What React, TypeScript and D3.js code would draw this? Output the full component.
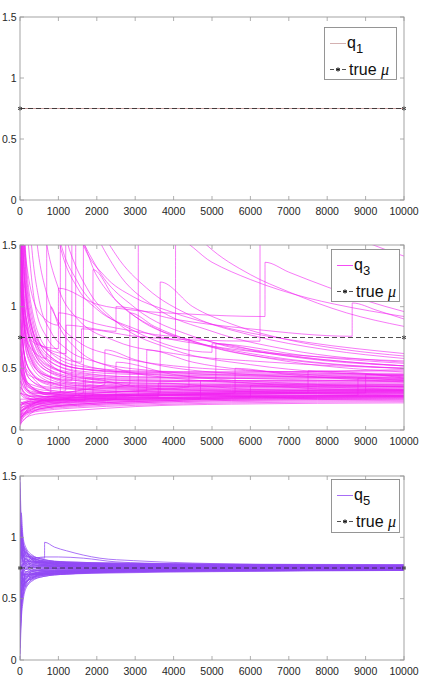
import React, { useEffect } from "react";
import * as d3 from "d3";

type Pt = [number, number];

const xTicks = [0, 1000, 2000, 3000, 4000, 5000, 6000, 7000, 8000, 9000, 10000];
const yTicks = [0, 0.5, 1, 1.5];
const muTrue = 0.75;

// q1: every run sits on the true mean
const q1Runs: Pt[][] = [
  [[0, 0.75], [10000, 0.75]],
];

// q3: smooth runs sampled at shared x positions
const q3BandX = [0, 40, 120, 300, 700, 1500, 3000, 5500, 10000];
const q3Band: number[][] = [
  [0.03, 0.06, 0.09, 0.12, 0.14, 0.16, 0.19, 0.21, 0.22],
  [0.05, 0.08, 0.11, 0.14, 0.16, 0.18, 0.2, 0.22, 0.23],
  [0.07, 0.1, 0.13, 0.15, 0.17, 0.19, 0.21, 0.23, 0.24],
  [0.09, 0.12, 0.14, 0.16, 0.18, 0.2, 0.22, 0.24, 0.25],
  [0.1, 0.13, 0.16, 0.18, 0.19, 0.21, 0.23, 0.25, 0.26],
  [0.12, 0.15, 0.17, 0.19, 0.2, 0.22, 0.24, 0.25, 0.26],
  [0.14, 0.16, 0.18, 0.2, 0.21, 0.23, 0.24, 0.26, 0.27],
  [0.16, 0.18, 0.19, 0.21, 0.22, 0.23, 0.25, 0.26, 0.27],
  [0.18, 0.2, 0.21, 0.22, 0.23, 0.24, 0.25, 0.27, 0.28],
  [0.2, 0.21, 0.22, 0.23, 0.24, 0.25, 0.26, 0.27, 0.28],
  [0.35, 0.3, 0.27, 0.25, 0.24, 0.25, 0.26, 0.27, 0.28],
  [0.5, 0.4, 0.33, 0.29, 0.27, 0.28, 0.3, 0.31, 0.32],
  [0.7, 0.55, 0.42, 0.34, 0.3, 0.3, 0.31, 0.32, 0.33],
  [0.9, 0.7, 0.5, 0.4, 0.34, 0.33, 0.33, 0.34, 0.35],
  [1.1, 0.85, 0.6, 0.46, 0.38, 0.35, 0.35, 0.36, 0.37],
  [1.3, 1.0, 0.72, 0.54, 0.44, 0.4, 0.38, 0.38, 0.39],
  [1.6, 1.2, 0.85, 0.62, 0.48, 0.42, 0.4, 0.4, 0.4],
  [2.0, 1.45, 1.0, 0.7, 0.52, 0.45, 0.42, 0.42, 0.42],
  [2.5, 1.75, 1.15, 0.78, 0.57, 0.48, 0.45, 0.44, 0.44],
  [3.0, 2.1, 1.3, 0.85, 0.6, 0.5, 0.47, 0.46, 0.46],
  [0.25, 0.22, 0.21, 0.22, 0.23, 0.24, 0.25, 0.26, 0.27],
  [0.6, 0.45, 0.36, 0.3, 0.27, 0.27, 0.28, 0.29, 0.3],
  [1.8, 1.3, 0.85, 0.6, 0.45, 0.38, 0.35, 0.35, 0.35],
  [2.2, 1.6, 1.0, 0.68, 0.5, 0.41, 0.37, 0.36, 0.36],
  [1.4, 1.1, 0.8, 0.58, 0.44, 0.37, 0.34, 0.33, 0.33],
  [0.8, 0.6, 0.45, 0.35, 0.3, 0.28, 0.28, 0.28, 0.29],
  [2.8, 2.1, 1.4, 0.85, 0.56, 0.43, 0.38, 0.37, 0.37],
  [0.15, 0.2, 0.22, 0.23, 0.24, 0.25, 0.26, 0.27, 0.28],
  [0.08, 0.13, 0.17, 0.2, 0.22, 0.24, 0.25, 0.26, 0.27],
  [0.04, 0.08, 0.12, 0.15, 0.18, 0.2, 0.22, 0.24, 0.25],
  [3.5, 2.4, 1.5, 0.95, 0.62, 0.5, 0.46, 0.45, 0.45],
  [1.2, 0.95, 0.7, 0.52, 0.4, 0.34, 0.31, 0.3, 0.3],
  [0.45, 0.36, 0.3, 0.27, 0.25, 0.25, 0.26, 0.27, 0.27],
  [2.4, 1.8, 1.2, 0.78, 0.54, 0.44, 0.4, 0.39, 0.4],
  [0.3, 0.28, 0.26, 0.25, 0.25, 0.26, 0.27, 0.28, 0.29],
  [1.0, 0.8, 0.6, 0.46, 0.37, 0.33, 0.31, 0.31, 0.32],
  [0.65, 0.5, 0.4, 0.33, 0.29, 0.29, 0.29, 0.3, 0.31],
  [0.11, 0.15, 0.18, 0.21, 0.23, 0.25, 0.27, 0.29, 0.3],
  [0.06, 0.1, 0.14, 0.17, 0.19, 0.21, 0.23, 0.25, 0.26],
  [1.5, 1.2, 0.9, 0.64, 0.48, 0.4, 0.36, 0.35, 0.35],
  [4.0, 2.6, 1.6, 1.0, 0.66, 0.52, 0.48, 0.47, 0.48],
  [1.7, 1.35, 0.95, 0.68, 0.5, 0.43, 0.41, 0.4, 0.41],
  [0.75, 0.62, 0.5, 0.4, 0.35, 0.34, 0.34, 0.35, 0.36],
  [2.6, 1.9, 1.25, 0.82, 0.58, 0.47, 0.43, 0.42, 0.43],
  [0.13, 0.17, 0.2, 0.22, 0.24, 0.26, 0.28, 0.3, 0.31],
  [1.25, 1.05, 0.78, 0.56, 0.42, 0.36, 0.33, 0.32, 0.32],
  [0.4, 0.34, 0.29, 0.27, 0.27, 0.28, 0.29, 0.3, 0.31],
  [3.2, 2.3, 1.45, 0.9, 0.62, 0.5, 0.47, 0.47, 0.49],
  [0.95, 0.78, 0.6, 0.47, 0.39, 0.36, 0.36, 0.37, 0.38],
  [0.2, 0.22, 0.23, 0.25, 0.26, 0.27, 0.29, 0.31, 0.33],
  [1.9, 1.5, 1.05, 0.72, 0.53, 0.46, 0.43, 0.43, 0.44],
  [0.55, 0.48, 0.4, 0.35, 0.32, 0.31, 0.32, 0.33, 0.34],
];

// q3: runs with jumps (a jump is two points one step apart)
const q3Jumps: Pt[][] = [
  [[0, 2.6], [120, 1.2], [400, 0.75], [1000, 0.6], [1600, 0.55], [1601, 0.82], [3000, 0.76], [4500, 0.73], [6250, 0.72], [6251, 2.1], [7500, 1.75], [9200, 1.5], [10000, 1.41]],
  [[0, 0.1], [300, 0.17], [1000, 0.22], [2000, 0.26], [3080, 0.28], [3081, 2.4], [4000, 1.8], [4860, 1.5], [6000, 1.26], [7000, 1.12], [8500, 0.95], [10000, 0.84]],
  [[0, 3], [150, 1.4], [500, 0.95], [1000, 0.85], [1001, 1.15], [2000, 1.02], [3000, 0.97], [4400, 0.94], [6380, 0.92], [6381, 1.36], [7000, 1.28], [8000, 1.16], [9000, 1.05], [10000, 0.96]],
  [[0, 2], [100, 1.0], [400, 0.72], [1200, 0.62], [1201, 0.85], [2500, 0.8], [2501, 1.0], [4000, 0.9], [6000, 0.82], [8650, 0.76], [8651, 1.03], [9300, 0.97], [10000, 0.9]],
  [[0, 1.5], [100, 0.9], [400, 0.7], [1000, 0.66], [1001, 0.95], [2000, 0.86], [3000, 0.8], [4050, 0.76], [4051, 1.55], [5000, 1.36], [6000, 1.22], [7500, 1.07], [8200, 1.02], [10000, 0.92]],
  [[0, 8], [400, 2.2], [700, 1.5], [1000, 1.15], [1500, 0.9], [2500, 0.72], [4000, 0.62], [6500, 0.55], [10000, 0.5]],
  [[0, 9], [500, 2.6], [1040, 1.5], [1500, 1.15], [2000, 0.98], [3000, 0.82], [5000, 0.68], [7500, 0.6], [10000, 0.56]],
  [[0, 10], [800, 2.6], [1650, 1.5], [2200, 1.25], [2950, 1.08], [3820, 0.97], [5500, 0.82], [7500, 0.71], [10000, 0.62]],
  [[0, 5], [100, 2.0], [220, 1.5], [400, 1.0], [700, 0.75], [1200, 0.6], [2000, 0.5], [4000, 0.44], [7000, 0.41], [10000, 0.39]],
  [[0, 7], [200, 2.4], [450, 1.5], [700, 1.1], [1000, 0.88], [1500, 0.72], [2500, 0.6], [4000, 0.52], [7000, 0.47], [10000, 0.45]],
  [[0, 6], [150, 2.2], [300, 1.5], [500, 1.05], [800, 0.8], [1200, 0.66], [2000, 0.55], [3500, 0.48], [6000, 0.44], [10000, 0.42]],
  [[0, 1.2], [200, 0.7], [695, 0.58], [696, 2.2], [1000, 1.6], [1500, 1.2], [2000, 1.0], [3000, 0.8], [5000, 0.63], [5001, 0.7], [7500, 0.6], [10000, 0.54]],
  [[0, 0.3], [300, 0.28], [1190, 0.32], [1191, 2.0], [1500, 1.65], [2000, 1.32], [3000, 0.99], [4500, 0.76], [6500, 0.63], [10000, 0.52]],
  [[0, 0.15], [400, 0.22], [1650, 0.3], [1651, 2.0], [2000, 1.7], [2500, 1.42], [3300, 1.15], [4500, 0.92], [6000, 0.77], [8000, 0.65], [10000, 0.58]],
  [[0, 0.6], [200, 0.35], [800, 0.3], [2210, 0.37], [2211, 0.65], [3000, 0.57], [5000, 0.47], [10000, 0.41]],
  [[0, 0.08], [300, 0.2], [1200, 0.3], [2860, 0.37], [2861, 0.95], [3500, 0.84], [4500, 0.72], [6000, 0.62], [8000, 0.54], [10000, 0.5]],
  [[0, 0.9], [150, 0.4], [800, 0.28], [3650, 0.3], [3651, 1.2], [4500, 1.0], [5500, 0.86], [7000, 0.73], [8500, 0.65], [10000, 0.6]],
  [[0, 0.2], [500, 0.26], [2000, 0.3], [4400, 0.35], [4401, 0.75], [5500, 0.67], [7000, 0.6], [10000, 0.52]],
  [[0, 1.0], [200, 0.45], [1000, 0.38], [3000, 0.39], [5100, 0.4], [5101, 0.7], [6500, 0.62], [8000, 0.56], [10000, 0.52]],
  [[0, 0.12], [400, 0.2], [1450, 0.28], [1451, 1.6], [2000, 1.25], [3000, 0.92], [4500, 0.72], [6500, 0.58], [10000, 0.47]],
  [[0, 0.4], [300, 0.3], [1050, 0.3], [1051, 1.7], [1300, 1.45], [1800, 1.12], [2500, 0.88], [4000, 0.65], [6000, 0.53], [10000, 0.44]],
  [[0, 0.25], [600, 0.25], [1900, 0.28], [1901, 1.3], [2500, 1.05], [3500, 0.83], [5000, 0.67], [7500, 0.55], [10000, 0.5]],
  [[0, 0.7], [200, 0.38], [1500, 0.3], [3300, 0.32], [3301, 0.65], [4500, 0.55], [7000, 0.46], [10000, 0.42]],
  [[0, 0.18], [700, 0.24], [3000, 0.28], [7500, 0.3], [7501, 0.48], [10000, 0.43]],
  [[0, 1.4], [150, 0.5], [1000, 0.3], [5000, 0.28], [8800, 0.28], [8801, 0.42], [10000, 0.4]],
  [[0, 0.1], [600, 0.2], [2500, 0.25], [2501, 0.55], [4000, 0.45], [7000, 0.38], [10000, 0.35]],
  [[0, 0.5], [300, 0.3], [2000, 0.28], [5600, 0.3], [5601, 0.5], [7000, 0.45], [10000, 0.39]],
  [[0, 0.05], [500, 0.17], [2000, 0.22], [4700, 0.25], [4701, 0.4], [7000, 0.36], [10000, 0.33]],
  [[0, 0.3], [500, 0.24], [3000, 0.25], [6000, 0.26], [6001, 0.36], [8000, 0.33], [10000, 0.32]],
  [[0, 0.5], [200, 0.32], [800, 0.3], [801, 1.0], [1000, 0.85], [1500, 0.65], [2500, 0.5], [4000, 0.42], [7000, 0.37], [10000, 0.35]],
  [[0, 2.0], [150, 0.7], [600, 0.45], [1350, 0.4], [1351, 2.2], [1700, 1.82], [2500, 1.3], [3500, 1.0], [5000, 0.8], [7000, 0.65], [10000, 0.55]],
  [[0, 0.22], [1000, 0.26], [5000, 0.29], [9000, 0.3], [9001, 0.45], [10000, 0.42]],
  [[0, 0.35], [300, 0.27], [2000, 0.26], [3600, 0.27], [3601, 0.38], [6000, 0.33], [10000, 0.31]],
  [[0, 0.15], [500, 0.21], [1700, 0.24], [1701, 0.42], [3000, 0.35], [6000, 0.31], [10000, 0.3]],
];

// q5: runs sampled at shared x positions
const q5X = [0, 30, 80, 150, 300, 600, 1200, 2500, 5000, 10000];
const q5Band: number[][] = [
  [1.45, 1.05, 0.93, 0.86, 0.82, 0.79, 0.78, 0.78, 0.77, 0.765],
  [0.05, 0.42, 0.55, 0.62, 0.67, 0.7, 0.71, 0.72, 0.73, 0.735],
  [1.2, 0.98, 0.88, 0.84, 0.8, 0.8, 0.79, 0.775, 0.765, 0.76],
  [0.3, 0.48, 0.6, 0.65, 0.69, 0.71, 0.72, 0.725, 0.73, 0.738],
  [1.0, 0.9, 0.82, 0.8, 0.83, 0.8, 0.77, 0.76, 0.76, 0.772],
  [0.5, 0.62, 0.64, 0.68, 0.7, 0.7, 0.715, 0.73, 0.735, 0.742],
  [0.9, 0.86, 0.8, 0.83, 0.78, 0.77, 0.785, 0.77, 0.775, 0.768],
  [0.6, 0.68, 0.7, 0.66, 0.72, 0.73, 0.72, 0.735, 0.74, 0.745],
  [0.75, 0.95, 0.86, 0.78, 0.75, 0.76, 0.765, 0.755, 0.758, 0.755],
  [0.8, 0.6, 0.68, 0.71, 0.74, 0.74, 0.75, 0.745, 0.742, 0.748],
  [1.3, 1.0, 0.9, 0.87, 0.84, 0.81, 0.8, 0.79, 0.78, 0.775],
  [0.2, 0.5, 0.62, 0.63, 0.68, 0.69, 0.705, 0.715, 0.725, 0.732],
  [0.95, 0.8, 0.84, 0.82, 0.8, 0.79, 0.77, 0.765, 0.762, 0.76],
  [0.4, 0.55, 0.58, 0.64, 0.66, 0.7, 0.72, 0.73, 0.74, 0.743],
  [1.1, 1.1, 0.96, 0.9, 0.82, 0.78, 0.76, 0.77, 0.768, 0.762],
  [0.65, 0.78, 0.7, 0.7, 0.73, 0.75, 0.74, 0.74, 0.745, 0.752],
  [0.85, 0.7, 0.78, 0.8, 0.77, 0.765, 0.76, 0.76, 0.753, 0.757],
  [0.55, 0.58, 0.62, 0.67, 0.69, 0.72, 0.73, 0.738, 0.737, 0.74],
  [1.5, 1.15, 0.97, 0.88, 0.85, 0.82, 0.795, 0.785, 0.775, 0.77],
  [0.0, 0.3, 0.48, 0.58, 0.64, 0.68, 0.7, 0.71, 0.72, 0.73],
  [0.7, 0.8, 0.76, 0.74, 0.77, 0.76, 0.748, 0.75, 0.755, 0.75],
  [0.82, 0.92, 0.88, 0.78, 0.79, 0.775, 0.77, 0.765, 0.765, 0.763],
  [0.45, 0.65, 0.6, 0.69, 0.7, 0.705, 0.71, 0.725, 0.732, 0.737],
  [1.05, 0.85, 0.9, 0.85, 0.81, 0.795, 0.78, 0.77, 0.77, 0.767],
  [0.35, 0.5, 0.66, 0.6, 0.66, 0.71, 0.725, 0.732, 0.738, 0.741],
  [0.78, 0.66, 0.72, 0.76, 0.725, 0.74, 0.755, 0.752, 0.748, 0.746],
  [0.92, 1.0, 0.82, 0.76, 0.76, 0.78, 0.765, 0.758, 0.76, 0.759],
  [0.62, 0.72, 0.64, 0.72, 0.71, 0.725, 0.735, 0.742, 0.744, 0.744],
  [1.25, 0.94, 0.92, 0.86, 0.83, 0.805, 0.79, 0.78, 0.772, 0.769],
  [0.15, 0.38, 0.52, 0.6, 0.65, 0.68, 0.7, 0.715, 0.728, 0.734],
  [1.0, 1.2, 1.0, 0.92, 0.86, 0.82, 0.8, 0.79, 0.782, 0.778],
  [0.55, 0.45, 0.53, 0.61, 0.67, 0.69, 0.705, 0.72, 0.726, 0.731],
  [1.35, 1.08, 0.95, 0.88, 0.83, 0.81, 0.795, 0.785, 0.778, 0.772],
  [0.1, 0.45, 0.57, 0.63, 0.68, 0.705, 0.715, 0.722, 0.73, 0.736],
  [0.88, 0.75, 0.79, 0.77, 0.79, 0.78, 0.77, 0.767, 0.764, 0.761],
  [0.58, 0.7, 0.66, 0.7, 0.705, 0.715, 0.725, 0.728, 0.735, 0.739],
  [1.15, 0.96, 0.84, 0.88, 0.82, 0.8, 0.785, 0.775, 0.771, 0.766],
  [0.25, 0.55, 0.6, 0.66, 0.7, 0.72, 0.73, 0.735, 0.74, 0.742],
  [0.72, 0.88, 0.8, 0.74, 0.78, 0.77, 0.76, 0.762, 0.757, 0.754],
  [0.68, 0.62, 0.74, 0.72, 0.72, 0.735, 0.745, 0.746, 0.75, 0.749],
  [0.98, 1.05, 0.92, 0.82, 0.8, 0.79, 0.782, 0.772, 0.767, 0.764],
  [0.42, 0.6, 0.67, 0.63, 0.69, 0.7, 0.712, 0.722, 0.733, 0.738],
  [0.87, 0.7, 0.76, 0.82, 0.76, 0.75, 0.77, 0.76, 0.756, 0.758],
  [0.52, 0.68, 0.72, 0.68, 0.7, 0.72, 0.73, 0.74, 0.742, 0.744],
  [1.4, 1.0, 0.94, 0.9, 0.84, 0.79, 0.79, 0.78, 0.774, 0.77],
  [0.1, 0.35, 0.56, 0.64, 0.66, 0.69, 0.71, 0.718, 0.725, 0.733],
  [0.8, 0.9, 0.78, 0.79, 0.75, 0.77, 0.758, 0.764, 0.761, 0.757],
  [0.63, 0.56, 0.68, 0.74, 0.73, 0.73, 0.742, 0.738, 0.746, 0.747],
  [1.08, 0.82, 0.86, 0.8, 0.8, 0.8, 0.78, 0.776, 0.77, 0.766],
  [0.38, 0.52, 0.62, 0.7, 0.67, 0.71, 0.722, 0.733, 0.736, 0.74],
];

// q5: the few runs with a visible jump / offset
const q5Extra: Pt[][] = [
  [[0, 0.9], [100, 0.85], [300, 0.84], [640, 0.83], [641, 0.96], [900, 0.92], [1215, 0.89], [2080, 0.83], [2950, 0.81], [4500, 0.79], [7000, 0.775], [10000, 0.765]],
  [[0, 0.6], [200, 0.8], [640, 0.84], [1000, 0.84], [1650, 0.83], [2500, 0.8], [4000, 0.785], [10000, 0.765]],
  [[0, 0.7], [500, 0.7], [1000, 0.7], [2000, 0.715], [4000, 0.73], [10000, 0.74]],
];

const q3Runs: Pt[][] = q3Band
  .map(v => v.map((y, i) => [q3BandX[i], y] as Pt))
  .concat(q3Jumps);
const q5Runs: Pt[][] = q5Band
  .map(v => v.map((y, i) => [q5X[i], y] as Pt))
  .concat(q5Extra);

const W = 422;
const H = 678;
const X0 = 20;
const X1 = 404;
const FONT = "'Liberation Sans', Arial, Helvetica, sans-serif";

const panels = [
  { sub: "1", runs: q1Runs, color: "#c99d9d", width: 1, opacity: 1, top: 17, bottom: 200, box: { x: 324, y: 27, w: 72, h: 52 } },
  { sub: "3", runs: q3Runs, color: "#f21ef2", width: 0.7, opacity: 0.85, top: 245, bottom: 430, box: { x: 331, y: 249, w: 68, h: 52 } },
  { sub: "5", runs: q5Runs, color: "#9048f4", width: 0.9, opacity: 0.85, top: 476, bottom: 660, box: { x: 331, y: 479, w: 68, h: 53 } },
];

function Panel({ p }: { p: typeof panels[number] }) {
  const x = d3.scaleLinear().domain([0, 10000]).range([X0, X1]);
  const y = d3.scaleLinear().domain([0, 1.5]).range([p.bottom, p.top]);
  const line = d3
    .line<Pt>()
    .x(d => x(d[0]))
    .y(d => y(d[1]))
    .curve(d3.curveMonotoneX);
  const star = d3.symbol(d3.symbolAsterisk, 12)() as string;
  const clipId = `clip-q${p.sub}`;
  const tick = 4;
  const b = p.box;

  return (
    <g>
      <defs>
        <clipPath id={clipId}>
          <rect x={X0} y={p.top} width={X1 - X0} height={p.bottom - p.top} />
        </clipPath>
      </defs>
      <rect x={X0} y={p.top} width={X1 - X0} height={p.bottom - p.top} fill="#fff" />
      <g clipPath={`url(#${clipId})`}>
        {p.runs.map((r, i) => (
          <path key={i} d={line(r) || ""} fill="none" stroke={p.color}
            strokeWidth={p.width} strokeOpacity={p.opacity} />
        ))}
        <line x1={x(0)} x2={x(10000)} y1={y(muTrue)} y2={y(muTrue)}
          stroke="#222" strokeWidth={0.8} strokeDasharray="5,3" />
      </g>
      {[0, 10000].map(v => (
        <path key={v} d={star} transform={`translate(${x(v)},${y(muTrue)})`}
          fill="none" stroke="#111" strokeWidth={1} />
      ))}

      {/* axes box and inward ticks */}
      <rect x={X0} y={p.top} width={X1 - X0} height={p.bottom - p.top}
        fill="none" stroke="#9a9a9a" strokeWidth={0.9} />
      {xTicks.map(t => (
        <g key={t}>
          <line x1={x(t)} x2={x(t)} y1={p.bottom} y2={p.bottom - tick} stroke="#9a9a9a" strokeWidth={0.8} />
          <line x1={x(t)} x2={x(t)} y1={p.top} y2={p.top + tick} stroke="#9a9a9a" strokeWidth={0.8} />
          <text x={x(t)} y={p.bottom + 14.5} textAnchor="middle" fontSize={10.5}
            fontFamily={FONT} fill="#262626">{t}</text>
        </g>
      ))}
      {yTicks.map(t => (
        <g key={t}>
          <line x1={X0} x2={X0 + tick} y1={y(t)} y2={y(t)} stroke="#9a9a9a" strokeWidth={0.8} />
          <line x1={X1} x2={X1 - tick} y1={y(t)} y2={y(t)} stroke="#9a9a9a" strokeWidth={0.8} />
          <text x={16.5} y={y(t)} dy="0.35em" textAnchor="end" fontSize={10.5}
            fontFamily={FONT} fill="#262626">{t}</text>
        </g>
      ))}

      {/* legend */}
      <rect x={b.x + 0.5} y={b.y + 0.5} width={b.w} height={b.h} fill="#fff" stroke="#8a8a8a" strokeWidth={0.9} />
      <line x1={b.x + 6} x2={b.x + 22} y1={b.y + 16.5} y2={b.y + 16.5} stroke={p.color} strokeWidth={0.8} />
      <text x={b.x + 23} y={b.y + 21} fontSize={16} fontFamily={FONT} fill="#111">
        q<tspan dy={5} fontSize={13}>{p.sub}</tspan>
      </text>
      <line x1={b.x + 6} x2={b.x + 22} y1={b.y + 42.5} y2={b.y + 42.5} stroke="#222"
        strokeWidth={0.8} strokeDasharray="4,2" />
      <path d={star} transform={`translate(${b.x + 14},${b.y + 42.5})`} fill="none" stroke="#111" strokeWidth={1} />
      <text x={b.x + 25} y={b.y + 47.5} fontSize={16} fontFamily={FONT} fill="#111">
        true <tspan fontStyle="italic" fontFamily="'Liberation Serif', 'DejaVu Serif', serif">μ</tspan>
      </text>
    </g>
  );
}

export default function App() {
  useEffect(() => {
    document.body.style.margin = "0";
  }, []);
  return (
    <svg width={W} height={H} style={{ display: "block", background: "#fff" }}>
      {panels.map(p => <Panel key={p.sub} p={p} />)}
    </svg>
  );
}
